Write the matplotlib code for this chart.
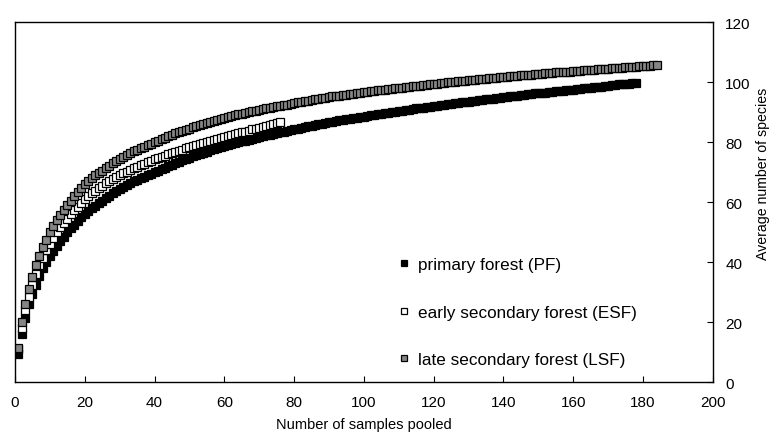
import numpy as np
from matplotlib import pyplot as plt

plt.rcParams['font.family'] = ['Liberation Sans', 'DejaVu Sans']

# average number of species per number of pooled samples
pf_species = [
    9.5, 16.0, 21.5, 26.0, 29.5, 32.5, 35.5, 38.0, 40.0, 42.0,
    43.8, 45.5, 47.0, 48.5, 50.0, 51.3, 52.5, 53.7, 54.9, 56.0,
    57.0, 57.9, 58.8, 59.7, 60.5, 61.3, 62.1, 62.9, 63.7, 64.5,
    65.1, 65.7, 66.3, 66.9, 67.5, 68.0, 68.5, 69.0, 69.5, 70.0,
    70.5, 71.0, 71.5, 72.0, 72.5, 73.0, 73.4, 73.9, 74.3, 74.8,
    75.2, 75.6, 76.0, 76.4, 76.8, 77.2, 77.6, 78.0, 78.3, 78.7,
    79.0, 79.3, 79.6, 79.9, 80.2, 80.5, 80.8, 81.1, 81.4, 81.7,
    82.0, 82.3, 82.5, 82.8, 83.0, 83.3, 83.5, 83.8, 84.0, 84.3,
    84.5, 84.8, 85.0, 85.2, 85.4, 85.7, 85.9, 86.1, 86.4, 86.6,
    86.8, 87.0, 87.2, 87.4, 87.6, 87.7, 87.9, 88.1, 88.3, 88.5,
    88.7, 88.9, 89.1, 89.3, 89.4, 89.6, 89.8, 90.0, 90.1, 90.3,
    90.5, 90.7, 90.8, 91.0, 91.2, 91.3, 91.5, 91.7, 91.8, 92.0,
    92.1, 92.3, 92.4, 92.6, 92.7, 92.9, 93.0, 93.2, 93.3, 93.5,
    93.6, 93.8, 93.9, 94.1, 94.2, 94.4, 94.5, 94.7, 94.8, 95.0,
    95.1, 95.3, 95.4, 95.5, 95.7, 95.8, 95.9, 96.0, 96.2, 96.3,
    96.4, 96.5, 96.6, 96.8, 96.9, 97.0, 97.1, 97.3, 97.4, 97.5,
    97.6, 97.8, 97.9, 98.0, 98.1, 98.3, 98.4, 98.5, 98.7, 98.8,
    98.9, 99.0, 99.2, 99.3, 99.4, 99.5, 99.7, 99.8,
]

esf_species = [
    11.0, 18.0, 24.0, 28.5, 32.5, 36.0, 39.0, 41.5, 44.0, 46.0,
    48.0, 50.0, 51.6, 53.1, 54.5, 55.9, 57.2, 58.5, 59.8, 61.0,
    62.0, 62.9, 63.8, 64.7, 65.5, 66.2, 66.9, 67.6, 68.3, 69.0,
    69.6, 70.1, 70.7, 71.2, 71.8, 72.3, 72.8, 73.3, 73.7, 74.2,
    74.6, 75.0, 75.5, 75.9, 76.3, 76.7, 77.1, 77.5, 77.9, 78.3,
    78.6, 79.0, 79.3, 79.7, 80.0, 80.3, 80.6, 81.0, 81.3, 81.6,
    81.9, 82.3, 82.6, 82.9, 83.2, 83.5, 83.8, 84.2, 84.5, 84.8,
    85.1, 85.5, 85.8, 86.1, 86.5, 86.8,
]

lsf_species = [
    11.5, 20.0, 26.0, 31.0, 35.0, 39.0, 42.0, 45.0, 47.5, 50.0,
    52.0, 54.0, 55.8, 57.5, 59.0, 60.5, 62.0, 63.4, 64.7, 66.0,
    67.0, 68.0, 68.9, 69.7, 70.5, 71.3, 72.1, 72.9, 73.7, 74.5,
    75.1, 75.7, 76.3, 76.9, 77.5, 78.0, 78.5, 79.0, 79.5, 80.0,
    80.5, 81.0, 81.5, 82.0, 82.5, 82.9, 83.3, 83.7, 84.1, 84.5,
    84.9, 85.2, 85.6, 85.9, 86.3, 86.6, 87.0, 87.3, 87.7, 88.0,
    88.3, 88.6, 88.9, 89.2, 89.5, 89.7, 90.0, 90.3, 90.5, 90.8,
    91.0, 91.3, 91.5, 91.7, 91.9, 92.1, 92.3, 92.5, 92.8, 93.0,
    93.2, 93.4, 93.6, 93.8, 94.0, 94.2, 94.4, 94.6, 94.8, 95.0,
    95.2, 95.4, 95.5, 95.7, 95.8, 96.0, 96.1, 96.3, 96.4, 96.6,
    96.7, 96.9, 97.0, 97.2, 97.3, 97.4, 97.6, 97.7, 97.9, 98.0,
    98.1, 98.3, 98.4, 98.6, 98.7, 98.8, 99.0, 99.1, 99.3, 99.4,
    99.5, 99.6, 99.8, 99.9, 100.0, 100.1, 100.2, 100.4, 100.5, 100.6,
    100.7, 100.8, 100.9, 101.0, 101.1, 101.3, 101.4, 101.5, 101.6, 101.7,
    101.8, 101.9, 102.0, 102.1, 102.2, 102.3, 102.4, 102.5, 102.6, 102.7,
    102.8, 102.9, 103.0, 103.1, 103.2, 103.2, 103.3, 103.4, 103.5, 103.6,
    103.7, 103.8, 103.9, 104.0, 104.1, 104.1, 104.2, 104.3, 104.4, 104.5,
    104.6, 104.7, 104.7, 104.8, 104.9, 105.0, 105.1, 105.1, 105.2, 105.3,
    105.4, 105.5, 105.6, 105.7,
]

labels = ['primary forest (PF)', 'early secondary forest (ESF)', 'late secondary forest (LSF)']

fig = plt.figure(figsize=(7.73, 4.35), dpi=100)
ax = fig.add_axes([0.0194, 0.1195, 0.9026, 0.8275])

ms = 6
ax.plot(np.arange(1, len(pf_species) + 1), pf_species, 's', ms=ms,
        mfc='black', mec='black', mew=0.9, label=labels[0])
ax.plot(np.arange(1, len(esf_species) + 1), esf_species, 's', ms=ms,
        mfc='white', mec='black', mew=0.9, label=labels[1])
ax.plot(np.arange(1, len(lsf_species) + 1), lsf_species, 's', ms=ms,
        mfc='#858585', mec='black', mew=0.9, label=labels[2])

ax.set_xlim(0, 200)
ax.set_ylim(0, 120)
ax.set_xticks(np.arange(0, 201, 20))
ax.set_yticks(np.arange(0, 121, 20))
ax.yaxis.tick_right()
ax.yaxis.set_label_position('right')
ax.tick_params(direction='in', length=4, width=0.8, labelsize=11, pad=9)
ax.tick_params(axis='y', pad=9)
for s in ax.spines.values():
    s.set_linewidth(1.0)

ax.set_xlabel('Number of samples pooled', fontsize=10.5, labelpad=6)
ax.set_ylabel('Average number of species', fontsize=10.2)
ax.yaxis.set_label_coords(1.062, 0.58)

leg = ax.legend(loc='upper left', bbox_to_anchor=(0.539, 0.37), frameon=False,
                fontsize=12.3, markerscale=0.8, handlelength=0.5,
                handletextpad=0.6, labelspacing=1.9, borderpad=0)

fig.savefig('out.png', dpi=100)
